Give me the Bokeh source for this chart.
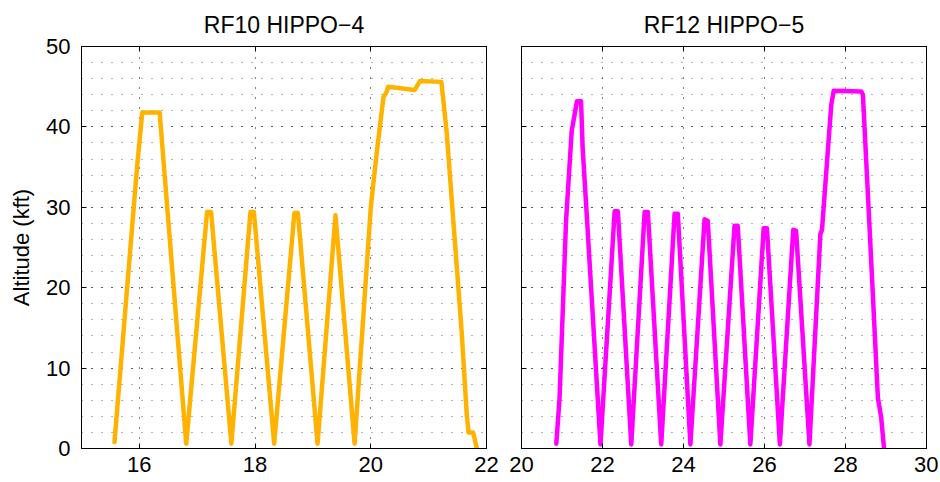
from bokeh.plotting import figure
from bokeh.layouts import row
from bokeh.models import LinearAxis, SingleIntervalTicker, Range1d
from bokeh.embed import file_html
from bokeh.resources import INLINE

# ---- data ----
rf10_hours = [15.57, 15.96, 16.05, 16.35, 16.81, 17.17, 17.24, 17.59, 17.92, 17.98, 18.33,
              18.68, 18.74, 19.08, 19.39, 19.72, 20.00, 20.10, 20.17, 20.22, 20.27, 20.30,
              20.76, 20.85, 21.22, 21.31, 21.57, 21.66, 21.69, 21.77, 21.83]
rf10_alt = [0.8, 35.0, 41.8, 41.8, 0.6, 29.4, 29.4, 0.6, 29.4, 29.4, 0.6,
            29.3, 29.3, 0.6, 29.0, 0.6, 30.0, 36.6, 40.8, 43.7, 44.3, 45.0,
            44.6, 45.7, 45.6, 39.5, 14.6, 4.1, 2.0, 2.0, 0.1]

rf12_hours = [20.86, 20.94, 21.10, 21.24, 21.37, 21.47, 21.51, 21.62, 21.95, 22.30, 22.38,
              22.71, 23.04, 23.12, 23.45, 23.78, 23.86, 24.17, 24.52, 24.60, 24.91, 25.26,
              25.34, 25.65, 25.98, 26.06, 26.38, 26.71, 26.78, 27.11, 27.38, 27.42, 27.60,
              27.65, 27.71, 28.39, 28.43, 28.59, 28.80, 28.88, 28.95]
rf12_alt = [0.6, 6.3, 28.3, 39.5, 43.2, 43.2, 37.4, 28.3, 0.5, 29.5, 29.5,
            0.5, 29.4, 29.4, 0.5, 29.2, 29.2, 0.5, 28.5, 28.3, 0.5, 27.7,
            27.7, 0.5, 27.4, 27.4, 0.5, 27.2, 27.1, 0.5, 26.7, 27.2, 39.5,
            42.8, 44.5, 44.4, 44.0, 27.9, 6.3, 3.9, 0.1]

titles = ["RF10 HIPPO\u22124", "RF12 HIPPO\u22125"]
colors = ["#FFB300", "#FF00FF"]
x_ranges = [(15, 22), (20, 30)]
y_label = "Altitude (kft)"

FONT = "Liberation Sans"
FS = "22px"


def style_axis(ax, show_labels=True, standoff=10):
    ax.axis_line_color = "black"
    ax.axis_line_width = 1
    ax.major_tick_in = 5
    ax.major_tick_out = 0
    ax.major_tick_line_color = "black"
    ax.minor_tick_line_color = None
    ax.major_label_text_font = FONT
    if show_labels:
        ax.major_label_text_color = "black"
        ax.major_label_text_font_size = FS
        ax.major_label_standoff = standoff
    else:
        ax.major_label_text_color = None
        ax.major_label_text_font_size = "1px"
        ax.major_label_standoff = 0


def make(i, xs, ys, left_border, right_border, show_ylabels):
    p = figure(frame_width=405, frame_height=402,
               x_range=Range1d(*x_ranges[i]), y_range=Range1d(0, 50),
               output_backend="svg", toolbar_location=None,
               min_border_left=left_border, min_border_right=right_border,
               min_border_top=46, min_border_bottom=30,
               background_fill_color="white", border_fill_color="white")
    p.title.text = titles[i]
    p.title.align = "center"
    p.title.text_font = FONT
    p.title.text_font_size = "23px"
    p.title.text_font_style = "normal"
    p.title.text_color = "black"
    p.title.standoff = 17

    xt = SingleIntervalTicker(interval=2, num_minor_ticks=0)
    yt = SingleIntervalTicker(interval=10, num_minor_ticks=5)
    p.xaxis.ticker = xt
    p.yaxis.ticker = yt
    p.xgrid.ticker = xt
    p.ygrid.ticker = yt

    for ax in p.xaxis:
        style_axis(ax, True, 8)
    for ax in p.yaxis:
        style_axis(ax, show_ylabels, 7)
    if show_ylabels:
        p.yaxis.axis_label = y_label
        p.yaxis.axis_label_text_font = FONT
        p.yaxis.axis_label_text_font_size = FS
        p.yaxis.axis_label_text_font_style = "normal"
        p.yaxis.axis_label_text_color = "black"
        p.yaxis.axis_label_standoff = 9

    top = LinearAxis(ticker=xt)
    right = LinearAxis(ticker=yt)
    style_axis(top, False)
    style_axis(right, False)
    p.add_layout(top, "above")
    p.add_layout(right, "right")

    p.xgrid.grid_line_color = "black"
    p.xgrid.grid_line_dash = "1 9"
    p.ygrid.grid_line_color = "black"
    p.ygrid.grid_line_dash = "1 9"
    p.ygrid.minor_grid_line_color = "#666666"
    p.ygrid.minor_grid_line_dash = "1 9"

    p.outline_line_color = "black"
    p.outline_line_alpha = 1
    p.outline_line_width = 1

    p.line(xs, ys, line_color=colors[i], line_width=4.5, line_join="round", line_cap="round")
    return p


p1 = make(0, rf10_hours, rf10_alt, 81, 15, True)
p2 = make(1, rf12_hours, rf12_alt, 20, 12, False)

layout = row(p1, p2, spacing=0)
open("out.html", "w").write(file_html(layout, INLINE))
